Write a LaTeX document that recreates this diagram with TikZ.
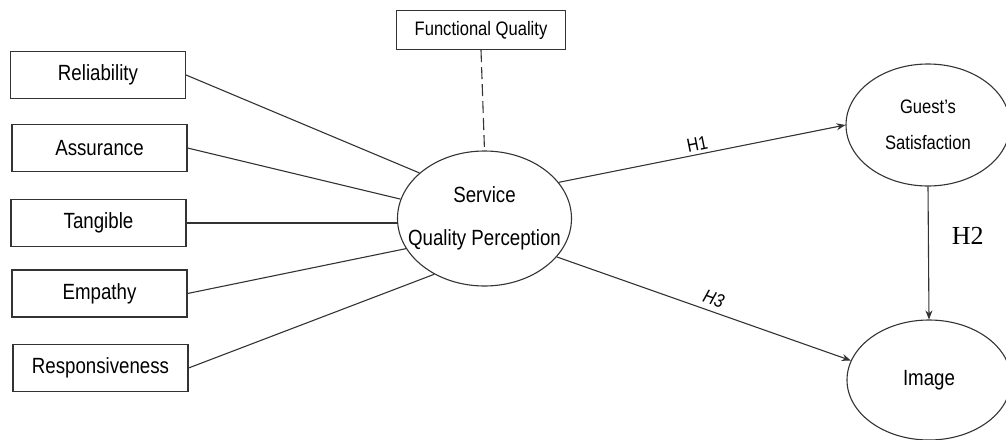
\documentclass[tikz,border=0pt]{standalone}
\usepackage{fontspec}
\setmainfont[FakeStretch=0.85]{Liberation Sans}
\newfontfamily\serifh{Liberation Serif}
\usepackage{tikz}
\usetikzlibrary{shapes,arrows.meta,positioning,calc}

\begin{document}
\begin{tikzpicture}[x=1pt,y=-1pt,
    factor/.style={rectangle,draw=black!80,line width=1.1pt,minimum width=175pt,
      minimum height=47pt,inner sep=0pt,font=\fontsize{22}{26}\selectfont},
    construct/.style={ellipse,draw=black!80,line width=1.1pt,inner sep=0pt},
    link/.style={draw=black!80,line width=1.1pt},
    hyp/.style={link,-{Stealth[length=9pt,width=7pt]}},
    hlabel/.style={inner sep=0pt,font=\fontsize{19}{19}\selectfont}]
  \useasboundingbox (0,0) rectangle (1006,439);
  % dimensions of service quality
  \node[factor] (rel) at (98,75) {Reliability};
  \node[factor] (ass) at (99.5,148) {Assurance};
  \node[factor] (tan) at (98.5,223) {Tangible};
  \node[factor] (emp) at (99.5,293.5) {Empathy};
  \node[factor] (res) at (100.5,368) {Responsiveness};
  \node[factor,minimum width=169pt,minimum height=39pt,font=\fontsize{19.5}{22}\selectfont]
  (fq) at (481,30) {Functional Quality};
  % constructs
  \node[construct,minimum width=174pt,minimum height=135pt,
    label={[align=center,font=\fontsize{22}{43}\selectfont]center:Service\\Quality Perception}]
  (spq) at (484.5,218.5) {};
  \node[construct,minimum width=164pt,minimum height=122pt,
    label={[align=center,font=\fontsize{19.5}{35.5}\selectfont]center:Guest's\\Satisfaction}]
  (gs) at (928,125) {};
  \node[construct,minimum width=164pt,minimum height=120pt,
    label={[font=\fontsize{22}{26}\selectfont]center:Image}]
  (img) at (929,380) {};
  % connectors
  \draw[link] (rel.east) -- (spq.145);
  \draw[link] (ass.east) -- (spq.167);
  \draw[link] (tan.east) -- (tan.east -| spq.west);
  \draw[link] (emp.east) -- (spq.201);
  \draw[link] (res.east) -- (spq.228);
  \draw[link,dash pattern=on 12pt off 5pt] (fq.south) -- (spq.north);
  \draw[hyp] (spq.26) -- node[hlabel,sloped,above=3pt,pos=0.49] (h1) {H1} (gs.west);
  \draw[hyp] (spq.332) -- node[hlabel,sloped,above=5pt,pos=0.52,
    font={\fontsize{19}{19}\selectfont\itshape}] (h3) {H3} (img.166);
  \draw[hyp] (gs.south) -- node[inner sep=0pt,pos=0.37,right=23pt,
    font={\serifh\fontsize{26}{26}\selectfont}] (h2) {H2} (img.north);
\end{tikzpicture}
\end{document}
